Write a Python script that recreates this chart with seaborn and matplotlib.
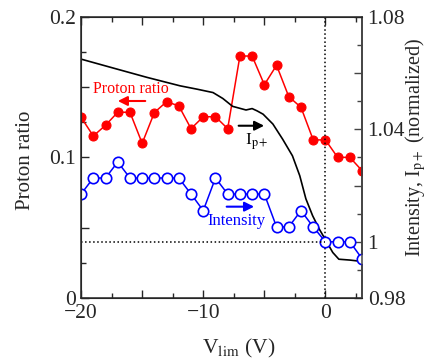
import matplotlib
matplotlib.use('Agg')
import matplotlib.pyplot as plt
import seaborn as sns
import pandas as pd

# bias voltage steps (V)
v_lim = [-20, -19, -18, -17, -16, -15, -14, -13, -12, -11, -10, -9,
         -8, -7, -6, -5, -4, -3, -2, -1, 0, 1, 2, 3]
# proton ratio (left axis)
proton_ratio = [0.1286, 0.1153, 0.1229, 0.1322, 0.1322, 0.1101, 0.1320, 0.1397,
                0.1367, 0.1205, 0.1290, 0.1290, 0.1205, 0.1722, 0.1722, 0.1518,
                0.1656, 0.1433, 0.1357, 0.1125, 0.1125, 0.1001, 0.1001, 0.0906]
# normalized intensity (right axis)
intensity = [1.0170, 1.0227, 1.0227, 1.0284, 1.0227, 1.0227, 1.0227, 1.0227,
             1.0227, 1.0170, 1.0111, 1.0227, 1.0170, 1.0170, 1.0170, 1.0170,
             1.0053, 1.0053, 1.0111, 1.0053, 1.0000, 1.0000, 1.0000, 0.9940]
# I_p+ curve (right axis)
ip_v = [-20, -17.1, -14.6, -11.9, -10.5, -9.2, -8.4, -7.6, -6.5, -6.0,
        -5.6, -5.1, -4.3, -3.5, -2.7, -2.1, -1.6, -1.05, -0.5, 0.05, 0.6,
        1.1, 2.0, 3.0]
ip_val = [1.0650, 1.0615, 1.0585, 1.0555, 1.0543, 1.0531, 1.0510,
          1.0482, 1.0469, 1.0474, 1.0466, 1.0454, 1.0419, 1.0365, 1.0306,
          1.0235, 1.0153, 1.0093, 1.0045, 1.0004, 0.9962, 0.9938, 0.9935,
          0.9930]

df = pd.DataFrame({'v': v_lim, 'ratio': proton_ratio, 'inten': intensity})
df_ip = pd.DataFrame({'v': ip_v, 'ip': ip_val})

sns.set_style('ticks')
plt.rcParams['font.family'] = ['Liberation Serif', 'DejaVu Serif']
plt.rcParams['mathtext.fontset'] = 'stix'
plt.rcParams['xtick.direction'] = 'in'
plt.rcParams['ytick.direction'] = 'in'

fig = plt.figure(figsize=(4.29, 3.61), dpi=100)
ax = fig.add_axes([0.189, 0.1745, 0.655, 0.7785])
ax2 = ax.twinx()

red = '#ff0000'
blue = '#0000ff'

sns.lineplot(data=df, x='v', y='ratio', ax=ax, color=red, lw=1.1,
             marker='o', markersize=6.5, markeredgecolor=red, markerfacecolor=red)
sns.lineplot(data=df_ip, x='v', y='ip', ax=ax2, color='black', lw=1.2)
sns.lineplot(data=df, x='v', y='inten', ax=ax2, color=blue, lw=1.1,
             marker='o', markersize=7.5, markerfacecolor='white',
             markeredgecolor=blue, markeredgewidth=1.2)

# reference lines
ax.axvline(0, color='black', ls=':', lw=1.1)
ax2.hlines(1.0, -20, 0, color='black', ls=':', lw=1.1)

ax.set_xlim(-20, 3)
ax.set_ylim(0, 0.2)
ax2.set_ylim(0.98, 1.08)

ax.set_xticks([-20, -15, -10, -5, 0])
ax.set_xticklabels(['\u221220', '', '\u221210', '', '0'])
ax.set_xticks([-17.5, -12.5, -7.5, -2.5, 2.5], minor=True)
ax.set_yticks([0, 0.05, 0.1, 0.15, 0.2])
ax.set_yticklabels(['0', '', '0.1', '', '0.2'])
ax.set_yticks([0.025, 0.075, 0.125, 0.175], minor=True)
ax2.set_yticks([0.98, 1.0, 1.02, 1.04, 1.06, 1.08])
ax2.set_yticklabels(['0.98', '1', '', '1.04', '', '1.08'])
ax2.set_yticks([0.99, 1.01, 1.03, 1.05, 1.07], minor=True)

ax.tick_params(axis='x', which='both', top=True, labelsize=15.5, pad=4)
ax.tick_params(axis='y', which='both', right=False, labelsize=15.5, pad=4)
ax.tick_params(which='major', length=6, width=1)
ax.tick_params(which='minor', length=3.5, width=1)
ax2.tick_params(axis='y', which='major', length=6, width=1, labelsize=15.5,
                color='#444', pad=4)
ax2.tick_params(axis='y', which='minor', length=3.5, width=1, color='#444')

for s in ax.spines.values():
    s.set_linewidth(1.1)
ax2.spines['right'].set_color('#444')
ax2.spines['right'].set_linewidth(1.1)

ax.set_xlabel('V$_{\\mathrm{lim}}$ (V)', fontsize=15.5, va='center')
ax.xaxis.set_label_coords(0.559, -0.178)
ax.set_ylabel('Proton ratio', fontsize=15, va='center')
ax.yaxis.set_label_coords(-0.199, 0.491)
ax2.set_ylabel('Intensity, I$_{\\mathrm{p+}}$ (normalized)', fontsize=14.5, va='center')
ax2.yaxis.set_label_coords(1.192, 0.537)

# in-plot labels and arrows
ax.text(-15.92, 0.1488, 'Proton ratio', color=red, fontsize=11.5, ha='center', va='center')
ax.annotate('', xy=(-17.22, 0.1402), xytext=(-14.52, 0.1402),
            arrowprops=dict(arrowstyle='-|>', color=red, lw=1.5, mutation_scale=14))
ax.annotate('', xy=(-4.79, 0.1226), xytext=(-7.33, 0.1226),
            arrowprops=dict(arrowstyle='-|>', color='black', lw=1.5, mutation_scale=14))
ax.text(-6.6, 0.111, 'I$_{\\mathrm{p+}}$', color='black', fontsize=12.5, ha='left', va='center')
ax.annotate('', xy=(-5.61, 0.065), xytext=(-8.31, 0.065),
            arrowprops=dict(arrowstyle='-|>', color=blue, lw=1.5, mutation_scale=14))
ax.text(-7.29, 0.055, 'Intensity', color=blue, fontsize=12, ha='center', va='center')

fig.savefig('out.png', dpi=100)
